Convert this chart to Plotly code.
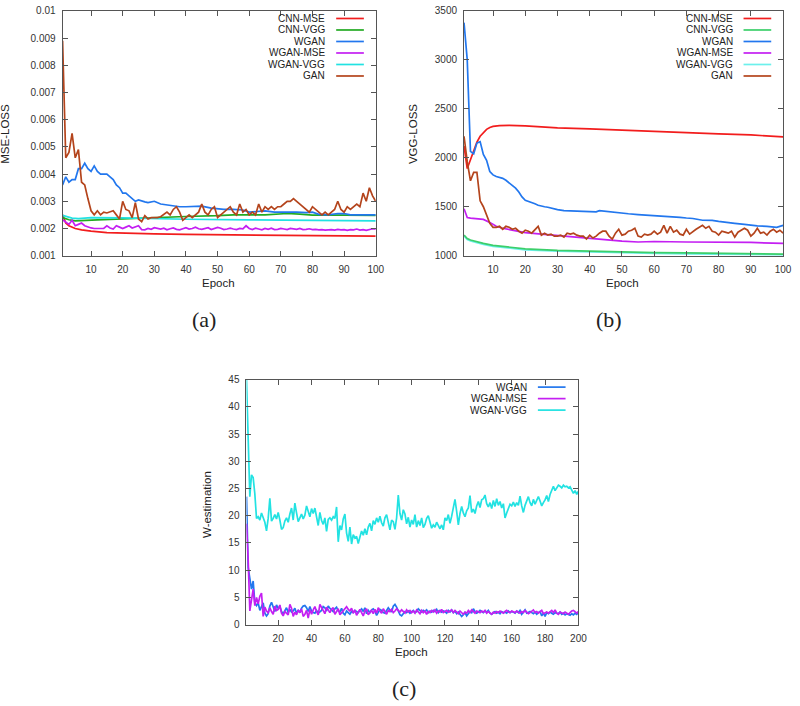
import plotly.graph_objects as go

W, H = 800, 706
SANS = "Liberation Sans, Arial, sans-serif"
SERIF = "Liberation Serif, Times New Roman, serif"

# ---------------- data: panel (a) MSE loss ----------------
epochs_a = list(range(1, 101))

a_cnn_mse_x = [1, 2, 3, 4, 5, 7, 10, 15, 20, 30, 40, 50, 55, 60, 80, 85, 100]
a_cnn_mse_y = [0.0025, 0.0022, 0.0021, 0.00205, 0.002, 0.00195, 0.0019, 0.00185, 0.00183, 0.0018,
               0.00178, 0.00177, 0.00176, 0.00175, 0.00175, 0.00172, 0.00172]

a_cnn_vgg_x = [1, 3, 5, 8, 12, 20, 30, 40, 50, 55, 65, 72, 76, 80, 90, 100]
a_cnn_vgg_y = [0.0024, 0.00232, 0.00228, 0.0023, 0.00232, 0.00235, 0.0024, 0.00244, 0.00247, 0.0025,
               0.0025, 0.00255, 0.00253, 0.00249, 0.00249, 0.00248]

a_wgan_x = list(range(1, 31)) + [32, 35, 38, 40, 42, 45, 48, 50, 52, 55, 58, 60, 62, 65, 68, 70, 72, 75,
                                 78, 80, 82, 85, 88, 90, 92, 95, 98, 100]
a_wgan_y = [0.0036, 0.0039, 0.0037, 0.0038, 0.0038, 0.0042, 0.0042, 0.0044, 0.0042, 0.0041,
            0.0043, 0.0041, 0.0040, 0.0040, 0.0040, 0.0039, 0.0038, 0.0036, 0.0035, 0.0033,
            0.0033, 0.0032, 0.0031, 0.0030, 0.00305, 0.0030, 0.00298, 0.00295, 0.00297, 0.0030,
            0.0029, 0.00285, 0.0028, 0.0028, 0.0028, 0.00282, 0.00275, 0.00272, 0.0027, 0.0027,
            0.00268, 0.0026, 0.00262, 0.00265, 0.0026, 0.0026, 0.00262, 0.0026, 0.00258, 0.0026,
            0.00252, 0.0025, 0.00255, 0.00255, 0.0025, 0.0025, 0.00248, 0.0025]

a_wgan_mse = [0.00232, 0.00225, 0.00215, 0.0023, 0.0021, 0.00215, 0.0022, 0.0021, 0.00205, 0.00202,
              0.002, 0.002, 0.00198, 0.002, 0.0021, 0.00202, 0.00198, 0.0021, 0.00205, 0.002,
              0.00205, 0.0021, 0.00202, 0.00205, 0.0021, 0.00196, 0.00195, 0.002, 0.00197, 0.00203,
              0.002, 0.00198, 0.00201, 0.00195, 0.00199, 0.00202, 0.00197, 0.00195, 0.00199, 0.00203,
              0.00198, 0.002, 0.00205, 0.00199, 0.00197, 0.00201, 0.00203, 0.00196, 0.002, 0.00204,
              0.00201, 0.00196, 0.00198, 0.00201, 0.00198, 0.00196, 0.002, 0.00199, 0.0021, 0.002,
              0.00196, 0.00201, 0.00198, 0.00195, 0.002, 0.00197, 0.00201, 0.00196, 0.00197, 0.002,
              0.00198, 0.00196, 0.002, 0.00198, 0.00197, 0.002, 0.00196, 0.00197, 0.00199, 0.00196,
              0.00197, 0.00195, 0.00196, 0.00194, 0.00195, 0.00196, 0.00194, 0.00197, 0.00195, 0.00196,
              0.00193, 0.00196, 0.00195, 0.00198, 0.00194, 0.00196, 0.00193, 0.00197, 0.00199, 0.00198]

a_wgan_vgg_x = [1, 2, 4, 6, 10, 20, 28, 40, 60, 80, 100]
a_wgan_vgg_y = [0.00248, 0.00244, 0.00238, 0.00236, 0.0024, 0.00239, 0.00237, 0.00234, 0.00232, 0.0023, 0.00228]

a_gan = [0.0089, 0.0046, 0.0048, 0.0055, 0.0046, 0.0049, 0.0037, 0.0036, 0.0031, 0.00265,
         0.0025, 0.00265, 0.0025, 0.0026, 0.00257, 0.0026, 0.00265, 0.0025, 0.00235, 0.003,
         0.0027, 0.00265, 0.0024, 0.00295, 0.00235, 0.00225, 0.00247, 0.00235, 0.0024, 0.0024,
         0.0024, 0.00243, 0.0025, 0.0026, 0.0025, 0.0027, 0.0028, 0.0026, 0.0023, 0.0024,
         0.0025, 0.0024, 0.0025, 0.0026, 0.0029, 0.0026, 0.0025, 0.0027, 0.0028, 0.0024,
         0.0025, 0.0026, 0.0027, 0.0028, 0.0026, 0.0025, 0.0029, 0.0026, 0.0027, 0.0025,
         0.0026, 0.0025, 0.0029, 0.0026, 0.0028, 0.0027, 0.0028, 0.0027, 0.0028, 0.0028,
         0.0029, 0.003, 0.003, 0.0031, 0.003, 0.0029, 0.0028, 0.0027, 0.0026, 0.0028,
         0.0027, 0.0026, 0.0025, 0.0026, 0.0025, 0.0026, 0.0027, 0.003, 0.0027, 0.0026,
         0.0028, 0.0027, 0.0028, 0.0029, 0.0028, 0.0033, 0.003, 0.0035, 0.0032, 0.003]

a_yticks = [0.001, 0.002, 0.003, 0.004, 0.005, 0.006, 0.007, 0.008, 0.009, 0.01]
a_yticktext = ["0.001", "0.002", "0.003", "0.004", "0.005", "0.006", "0.007", "0.008", "0.009", "0.01"]

# ---------------- data: panel (b) VGG loss ----------------
epochs_b = list(range(1, 101))

b_cnn_mse_x = [1, 2, 3, 4, 5, 6, 7, 8, 9, 10, 12, 15, 20, 30, 40, 50, 60, 70, 80, 90, 100]
b_cnn_mse_y = [2120, 1890, 1980, 2070, 2160, 2220, 2260, 2290, 2310, 2320,
               2328, 2330, 2325, 2305, 2295, 2280, 2270, 2257, 2245, 2233, 2213]

b_cnn_vgg_x = [1, 2, 3, 5, 7, 10, 15, 20, 30, 40, 50, 60, 70, 80, 90, 100]
b_cnn_vgg_y = [1210, 1175, 1160, 1140, 1125, 1105, 1085, 1070, 1055, 1045, 1038, 1032, 1028, 1025, 1020, 1015]

b_wgan_x = list(range(1, 31)) + [32, 35, 38, 40, 42, 43, 45, 48, 50, 52, 55, 58, 60, 62, 65, 68, 70, 72,
                                 75, 78, 80, 82, 85, 88, 90, 92, 95, 98, 100]
b_wgan_y = [3380, 3000, 2065, 2040, 2150, 2165, 2035, 1975, 1860, 1825,
            1808, 1800, 1790, 1770, 1745, 1720, 1690, 1650, 1600, 1565,
            1555, 1545, 1530, 1515, 1505, 1500, 1495, 1485, 1475, 1470,
            1460, 1455, 1450, 1445, 1448, 1460, 1452, 1440, 1435, 1428,
            1420, 1415, 1410, 1405, 1400, 1392, 1385, 1380, 1362, 1360,
            1350, 1345, 1330, 1320, 1310, 1305, 1300, 1290, 1310]

b_wgan_mse_x = [1, 2, 3, 5, 7, 9, 11, 13, 15, 20, 25, 30, 35, 40, 45, 50, 55, 60, 70, 80, 90, 100]
b_wgan_mse_y = [1480, 1390, 1383, 1380, 1370, 1340, 1300, 1280, 1265, 1235,
                1220, 1205, 1195, 1180, 1165, 1148, 1140, 1145, 1140, 1138, 1135, 1125]

b_wgan_vgg_x = [1, 2, 3, 5, 7, 10, 15, 20, 30, 40, 50, 60, 70, 80, 90, 100]
b_wgan_vgg_y = [1200, 1165, 1150, 1130, 1115, 1095, 1075, 1060, 1045, 1035, 1028, 1022, 1018, 1015, 1011, 1008]

b_gan = [2220, 1960, 1765, 1850, 1850, 1560, 1500, 1420, 1330, 1290,
         1290, 1300, 1270, 1300, 1290, 1270, 1280, 1250, 1230, 1260,
         1250, 1230, 1260, 1300, 1210, 1230, 1210, 1220, 1200, 1200,
         1210, 1190, 1230, 1220, 1230, 1210, 1200, 1200, 1170, 1210,
         1180, 1200, 1230, 1250, 1250, 1200, 1170, 1230, 1270, 1210,
         1220, 1250, 1260, 1280, 1200, 1190, 1220, 1210, 1220, 1250,
         1220, 1240, 1310, 1230, 1300, 1240, 1260, 1220, 1210, 1270,
         1220, 1250, 1270, 1290, 1310, 1280, 1300, 1250, 1240, 1210,
         1250, 1240, 1230, 1250, 1190, 1240, 1260, 1280, 1260, 1200,
         1230, 1280, 1230, 1240, 1210, 1250, 1270, 1240, 1260, 1230]

# ---------------- data: panel (c) W-estimation ----------------
epochs_c = list(range(1, 201))

c_wgan = [23.5, 10.5, 8.5, 6.5, 8, 4, 3.5, 4, 2.6, 3.2,
          4, 2.1, 1.6, 2, 3.4, 4.1, 3, 2.4, 3.6, 3,
          3.3, 2.4, 2, 2.6, 3.1, 2.2, 2.8, 2.3, 2.5, 3,
          2.1, 2.6, 2.2, 3, 3.4, 3.5, 3.1, 2.4, 3.3, 2.5,
          2.2, 2.1, 2.6, 2.1, 2.4, 2.6, 3.3, 3.1, 2.5, 3.4,
          3, 2.6, 2.4, 2.9, 3.2, 2.5, 2.3, 3, 2.1, 1.8,
          2.5, 2.2, 1.9, 2.4, 2.2, 2.6, 2.4, 2.2, 2.6, 2.9,
          2.4, 3.1, 2, 2.6, 2.2, 2.7, 2.9, 2.5, 1.7, 2.4,
          2.8, 2.6, 2.2, 2.1, 2.5, 3.1, 2.7, 2.3, 3.4, 3.7,
          3.2, 2.3, 1.8, 1.6, 2.1, 2.4, 2.2, 2.5, 2.1, 2.4,
          2.6, 2.2, 2.4, 2.9, 2.5, 2.3, 2.6, 2.4, 2.7, 2.2,
          2.5, 2.3, 2.6, 2.4, 2.8, 2.2, 2.6, 2.3, 2.5, 2.4,
          2.1, 2.6, 2.3, 2.7, 2.2, 2.5, 2, 2.3, 1.9, 1.5,
          1.8, 2.2, 1.6, 2.1, 2.4, 2.2, 2.9, 2.4, 2.1, 2.3,
          2.6, 2.4, 2.2, 2.5, 2.3, 2.6, 2.1, 1.9, 2.2, 2.4,
          2.1, 2.3, 2, 2.4, 2.2, 2.3, 2.1, 2.5, 2.2, 2.4,
          2.3, 2.1, 2.5, 2.2, 2.6, 1.9, 2.3, 2.7, 2.1, 2.2,
          2.4, 2.2, 2, 2.3, 1.9, 2.2, 2.4, 1.6, 2.1, 1.5,
          2.2, 2, 2.3, 2.1, 1.9, 2.2, 2.1, 2, 2.3, 1.9,
          2.1, 1.8, 2, 1.9, 1.7, 2, 1.8, 2.1, 1.9, 2.3]

c_wgan_mse = [18.5, 12, 2.5, 4.8, 6.5, 3.5, 5, 3.8, 5.2, 5.8,
              1.5, 3.2, 2.5, 2.2, 3.1, 2.4, 1.9, 3.4, 2.6, 2.8,
              3.6, 2.1, 1.6, 2.4, 2, 1.8, 3.7, 3, 1.5, 2.3,
              1.8, 2.7, 2.2, 2.9, 1.5, 1.9, 2.6, 1.2, 2.8, 1.9,
              2.7, 3.3, 2.4, 1.8, 3.7, 3.1, 2.5, 2, 3.2, 2.6,
              2.2, 2.8, 3.1, 1.9, 2.4, 2.9, 1.8, 2.2, 2.7, 3.1,
              3.3, 2.8, 2.5, 3, 2.1, 2.7, 1.7, 2.3, 2.8, 2.2,
              1.6, 2.5, 2.9, 1.8, 2.3, 2.6, 2, 2.8, 2.1, 3.1,
              2.5, 2.1, 2.9, 2.3, 1.9, 2.6, 2.4, 2.8, 2.2, 2.5,
              2.9, 2.6, 2.3, 2.7, 2.4, 2.1, 2.7, 2.3, 2.6, 2.2,
              2.5, 2.1, 2.7, 2.3, 2, 2.6, 2.2, 2.5, 1.9, 2.4,
              2.2, 2.6, 2.3, 2.7, 2.1, 2.5, 2.3, 2.8, 2.2, 2.4,
              2.6, 2.3, 2.5, 2.7, 2.2, 2.6, 2.3, 2, 2.5, 2.2,
              1.9, 2.3, 2.1, 2.6, 2.2, 2.7, 2.4, 2.1, 2.5, 2.3,
              2.2, 2.5, 2.3, 2.6, 2.1, 2.4, 2.2, 1.9, 2.3, 2.1,
              2.4, 2.2, 2.5, 2.3, 2.1, 2.4, 2.6, 2.3, 2.2, 2.5,
              2.4, 2.2, 2.5, 2.3, 2.1, 2.4, 2.2, 2.6, 2.3, 2,
              2.2, 2.5, 2.7, 2.2, 2.4, 2.1, 2.3, 2.6, 2, 2.2,
              2.3, 2.1, 2.4, 2.6, 2.2, 2.7, 2.1, 1.9, 2.3, 2.2,
              2, 2.3, 2.1, 1.9, 2.2, 2.5, 2.6, 2.3, 2.1, 2.4]

c_wgan_vgg = [45, 33, 23.5, 27.5, 27, 24, 19.5, 19.8, 19.2, 20.5,
              19.5, 18.8, 17.2, 19.5, 23.2, 19, 19.5, 20.2, 19.4, 20.6,
              19.2, 17.5, 17.8, 19, 19.6, 18.8, 20.3, 21.4, 19.2, 22.3,
              20.5, 18.9, 19.6, 20.3, 19.4, 20.1, 21.8, 20.6, 19.8, 21.3,
              20.4, 21.4, 19.5, 18.2, 20.6, 19.1, 18.4, 19.6, 17.1, 19.3,
              19.6, 19.2, 19.8, 19.5, 21.6, 15.2, 18.2, 17.4, 19.4, 20.3,
              16.8, 15.3, 17.9, 14.8, 16.5, 15.9, 16.2, 14.9, 16.1, 17.2,
              16.4, 17.6, 16.5, 17.9, 18.6, 17.2, 19.1, 18.4, 19.6, 18.8,
              19.9, 18.7, 18.1, 19.6, 20.2, 18.8, 17.4, 19.2, 18.9, 17.5,
              19.6, 23.8, 20.4, 19.2, 21.1, 20.3, 18.5, 19.7, 17.9, 19.2,
              18.4, 20.2, 17.9, 19.1, 18.2, 19.6, 17.8, 18.4, 19.5, 20,
              18.6, 17.7, 18.3, 17.9, 18.8, 18.1, 17.6, 18.3, 17.4, 19.6,
              19.1, 20.2, 18.6, 19.9, 21.4, 23, 20.8, 18.3, 20.4, 21.7,
              20.5, 19.8, 20.9, 21.4, 23.7, 20.6, 21.2, 20.4, 21.8, 22.6,
              21.5, 22.9, 23.1, 23.8, 22.2, 21.6, 22.4, 21.3, 22.8, 21.7,
              23.1, 21.9, 22.6, 21.4, 22.2, 19.6, 20.5, 21.2, 22.1, 21.8,
              22.5, 21.7, 22.4, 21.9, 23.6, 21.8, 20.6, 21.9, 22.7, 23.5,
              22.4, 21.8, 23, 22.1, 22.8, 23.5, 22.7, 21.8, 22.4, 22.9,
              23.7, 22.6, 23.9, 24.8, 25.4, 24.6, 25.2, 25.6, 25.4, 25.1,
              25.6, 25.3, 25.4, 25.1, 25.3, 24.8, 24.1, 24.6, 23.9, 24.5]

# ---------------- colours ----------------
RED, GREEN, BLUE, PURPLE, CYAN, BROWN = "#f21d1d", "#22aa22", "#2277ee", "#c41ff2", "#22e2e2", "#b4441c"
GREEN_B, CYAN_B = "#3ccf6a", "#6cf0ec"


def px(x):
    return x / W


def py(y):
    return 1 - y / H


def line(x, y, color, xa, ya):
    return go.Scatter(x=x, y=y, mode="lines", line=dict(color=color, width=1.7),
                      xaxis=xa, yaxis=ya, showlegend=False)


fig = go.Figure()

# panel (a)
fig.add_trace(line(a_cnn_mse_x, a_cnn_mse_y, RED, "x", "y"))
fig.add_trace(line(a_cnn_vgg_x, a_cnn_vgg_y, GREEN, "x", "y"))
fig.add_trace(line(a_wgan_x, a_wgan_y, BLUE, "x", "y"))
fig.add_trace(line(epochs_a, a_wgan_mse, PURPLE, "x", "y"))
fig.add_trace(line(a_wgan_vgg_x, a_wgan_vgg_y, CYAN, "x", "y"))
fig.add_trace(line(epochs_a, a_gan, BROWN, "x", "y"))

# panel (b)
fig.add_trace(line(b_cnn_mse_x, b_cnn_mse_y, RED, "x2", "y2"))
fig.add_trace(line(b_wgan_vgg_x, b_wgan_vgg_y, CYAN_B, "x2", "y2"))
fig.add_trace(line(b_cnn_vgg_x, b_cnn_vgg_y, GREEN_B, "x2", "y2"))
fig.add_trace(line(b_wgan_x, b_wgan_y, BLUE, "x2", "y2"))
fig.add_trace(line(b_wgan_mse_x, b_wgan_mse_y, PURPLE, "x2", "y2"))
fig.add_trace(line(epochs_b, b_gan, BROWN, "x2", "y2"))

# panel (c)
fig.add_trace(line(epochs_c, c_wgan, BLUE, "x3", "y3"))
fig.add_trace(line(epochs_c, c_wgan_mse, PURPLE, "x3", "y3"))
fig.add_trace(line(epochs_c, c_wgan_vgg, CYAN, "x3", "y3"))

axis_style = dict(showline=True, linecolor="#555", linewidth=1, mirror="allticks", ticks="inside",
                  ticklen=5, tickcolor="#555", showgrid=False, zeroline=False,
                  tickfont=dict(family=SANS, size=10, color="#333"), ticklabelstandoff=4)

top_y = [py(254), py(5)]
fig.update_layout(
    width=W, height=H, margin=dict(l=0, r=0, t=0, b=0),
    paper_bgcolor="white", plot_bgcolor="white", showlegend=False,
    xaxis=dict(domain=[px(63.3), px(380)], anchor="y", range=[1, 100],
               tickvals=list(range(10, 101, 10)), **axis_style),
    yaxis=dict(domain=top_y, anchor="x", range=[0.001, 0.01],
               tickvals=a_yticks, ticktext=a_yticktext, **axis_style),
    xaxis2=dict(domain=[px(469.3), px(792)], anchor="y2", range=[1, 100],
                tickvals=list(range(10, 101, 10)), **axis_style),
    yaxis2=dict(domain=top_y, anchor="x2", range=[1000, 3500],
                tickvals=list(range(1000, 3501, 500)), **axis_style),
    xaxis3=dict(domain=[px(249.3), px(585)], anchor="y3", range=[1, 200],
                tickvals=list(range(20, 201, 20)), **axis_style),
    yaxis3=dict(domain=[py(629.3), py(380)], anchor="x3", range=[0, 45],
                tickvals=list(range(0, 46, 5)), **axis_style),
)

# axis titles and captions
texts = [
    ("MSE-LOSS", 5, 130, -90, SANS, 11.5),
    ("Epoch", 221, 282, 0, SANS, 11.5),
    ("(a)", 206, 319, 0, SERIF, 22),
    ("VGG-LOSS", 417, 130, -90, SANS, 11.5),
    ("Epoch", 630, 282, 0, SANS, 11.5),
    ("(b)", 616, 319, 0, SERIF, 22),
    ("W-estimation", 210, 507, -90, SANS, 11.5),
    ("Epoch", 416, 657, 0, SANS, 11.5),
    ("(c)", 409, 694, 0, SERIF, 22),
]
for t, x, y, ang, fam, sz in texts:
    fig.add_annotation(text=t, x=px(x), y=py(y), xref="paper", yref="paper", showarrow=False,
                       xanchor="center", yanchor="middle", textangle=ang,
                       font=dict(family=fam, size=sz, color="#222"))


# gnuplot-style keys: label right-aligned, sample line on the right
def add_key(names, colors, text_right, x0, x1, y_first, step=11.7):
    for i, (name, col) in enumerate(zip(names, colors)):
        yy = y_first + i * step
        fig.add_annotation(text=name, x=px(text_right), y=py(yy), xref="paper", yref="paper",
                           showarrow=False, xanchor="right", yanchor="middle",
                           font=dict(family=SANS, size=10, color="#222"))
        fig.add_shape(type="line", xref="paper", yref="paper", x0=px(x0), x1=px(x1),
                      y0=py(yy), y1=py(yy), line=dict(color=col, width=1.7))


names6 = ["CNN-MSE", "CNN-VGG", "WGAN", "WGAN-MSE", "WGAN-VGG", "GAN"]
add_key(names6, [RED, GREEN, BLUE, PURPLE, CYAN, BROWN], 331, 340, 368, 12.7)
add_key(names6, [RED, GREEN_B, BLUE, PURPLE, CYAN_B, BROWN], 743, 752, 780, 12.7)
add_key(["WGAN", "WGAN-MSE", "WGAN-VGG"], [BLUE, PURPLE, CYAN], 535, 544, 572, 387.7)

# the page's default body margin would push the 800x706 figure off the window
fig.write_html("out.html", config={"displayModeBar": False},
               post_script="document.body.style.margin='0';")
